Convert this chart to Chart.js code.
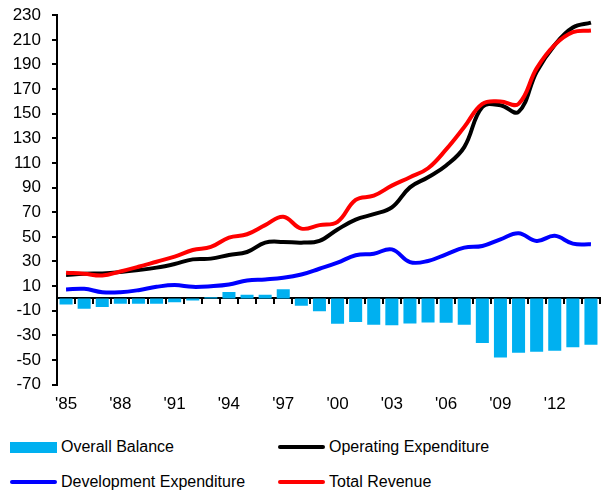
<!DOCTYPE html>
<html>
<head>
<meta charset="utf-8">
<script src="https://cdn.jsdelivr.net/npm/chart.js@4.4.1/dist/chart.umd.min.js"></script>
<style>
  html, body { margin: 0; padding: 0; background: #fff; overflow: hidden; }
  #wrap { position: relative; width: 601px; height: 490px; font-family: "Liberation Sans", Arial, sans-serif; overflow: hidden; }
  #box { position: absolute; left: 0; top: -6px; width: 601px; height: 431px; }
  .leg { position: absolute; font-size: 16px; color: #000; display: flex; align-items: center; white-space: nowrap; }
  .sw { display: inline-block; width: 47px; margin-right: 4px; }
</style>
</head>
<body>
<div id="wrap">
  <div id="box"><canvas id="c"></canvas></div>
  <div class="leg" style="left:10px; top:438px;"><span class="sw" style="height:11px;background:#00B0F0;"></span>Overall Balance</div>
  <div class="leg" style="left:278px; top:438px;"><span class="sw" style="height:4px;background:#000000;border-radius:2px;"></span>Operating Expenditure</div>
  <div class="leg" style="left:10px; top:473px;"><span class="sw" style="height:4px;background:#0000FF;border-radius:2px;"></span>Development Expenditure</div>
  <div class="leg" style="left:278px; top:473px;"><span class="sw" style="height:4px;background:#FF0000;border-radius:2px;"></span>Total Revenue</div>
</div>
<script>
const years = [1985,1986,1987,1988,1989,1990,1991,1992,1993,1994,1995,1996,1997,1998,1999,
               2000,2001,2002,2003,2004,2005,2006,2007,2008,2009,2010,2011,2012,2013,2014];
const tickLabels = ["'85","'88","'91","'94","'97","'00","'03","'06","'09","'12"];
const yTicks = [-70,-50,-30,-10,10,30,50,70,90,110,130,150,170,190,210,230];

const overallBalance = [-5,-8.3,-7,-4.3,-4.3,-4.3,-3.1,-1.8,1,5.3,2.9,2.9,7.5,-5.9,-10.5,
                        -20.6,-19.2,-21.4,-21.9,-20.3,-19.5,-19.7,-21.4,-36.3,-48,-44.2,-43.4,-42.6,-39.6,-37.7];
const operatingExp = [19,20,20.3,21.4,23,25,28,31.7,32.3,35.3,37.7,45.3,45.9,45.3,46.7,
                      56,64,68.4,73.9,90.2,98.4,107.9,122.9,155.5,156.9,151.5,184.1,205.9,220,224];
const developmentExp = [7.2,7.8,5,5,6.7,9.4,10.8,9.4,9.9,11.3,14.5,15.4,16.7,19.4,24.1,
                        29,35,36.3,39.8,29.5,30.4,35.8,41.2,42.6,48,52.9,46.7,50.8,44.5,43.9];
const totalRevenue = [20.8,20,18.6,21.9,25.7,29.8,33.9,39.3,41.8,49.4,52.1,59.5,66.3,56.7,59.5,
                      62.2,80,83.4,91.6,98.4,105.7,121,139.2,158,160,158,186.8,205.9,216.2,217.6];

const labelFont = { family: "'Liberation Sans', Arial, sans-serif", size: 17 };

new Chart(document.getElementById('c'), {
  type: 'bar',
  data: {
    labels: years,
    datasets: [
      { type: 'bar', label: 'Overall Balance', data: overallBalance, backgroundColor: '#00B0F0',
        barPercentage: 0.72, categoryPercentage: 1.0, order: 4 },
      { type: 'line', label: 'Development Expenditure', data: developmentExp, borderColor: '#0000FF',
        borderWidth: 4, pointRadius: 0, tension: 0.4, fill: false, order: 3 },
      { type: 'line', label: 'Operating Expenditure', data: operatingExp, borderColor: '#000000',
        borderWidth: 4, pointRadius: 0, tension: 0.4, fill: false, order: 2 },
      { type: 'line', label: 'Total Revenue', data: totalRevenue, borderColor: '#FF0000',
        borderWidth: 4, pointRadius: 0, tension: 0.4, fill: false, order: 1 }
    ]
  },
  options: {
    responsive: true,
    maintainAspectRatio: false,
    animation: false,
    layout: { padding: { top: 0, right: 1, left: 0, bottom: 0 } },
    plugins: { legend: { display: false }, tooltip: { enabled: false } },
    scales: {
      x: {
        type: 'category',
        position: 'bottom',
        offset: true,
        border: { display: false },
        grid: { display: false, drawTicks: false },
        ticks: {
          autoSkip: false, maxRotation: 0, padding: 10, color: '#000', font: labelFont,
          callback: function(v, i) {
            const yy = String(years[i] % 100).padStart(2, '0');
            const lab = "'" + yy;
            return tickLabels.includes(lab) ? lab : '';
          }
        }
      },
      x2: {
        type: 'category',
        position: { y: 0 },
        offset: true,
        border: { display: true, color: '#000', width: 2 },
        grid: { display: true, offset: true, drawOnChartArea: false, drawTicks: true, tickLength: 5, color: '#000', lineWidth: 2 },
        ticks: { display: false }
      },
      y: {
        type: 'linear',
        min: -70, max: 230,
        afterFit: function(s) { s.width = 57; },
        afterBuildTicks: function(s) { s.ticks = yTicks.map(v => ({ value: v })); },
        border: { display: true, color: '#000', width: 2 },
        grid: { display: true, drawOnChartArea: false, drawTicks: true, tickLength: 5, color: '#000', lineWidth: 2 },
        ticks: { padding: 11, color: '#000', font: labelFont }
      }
    }
  }
});
</script>
</body>
</html>
